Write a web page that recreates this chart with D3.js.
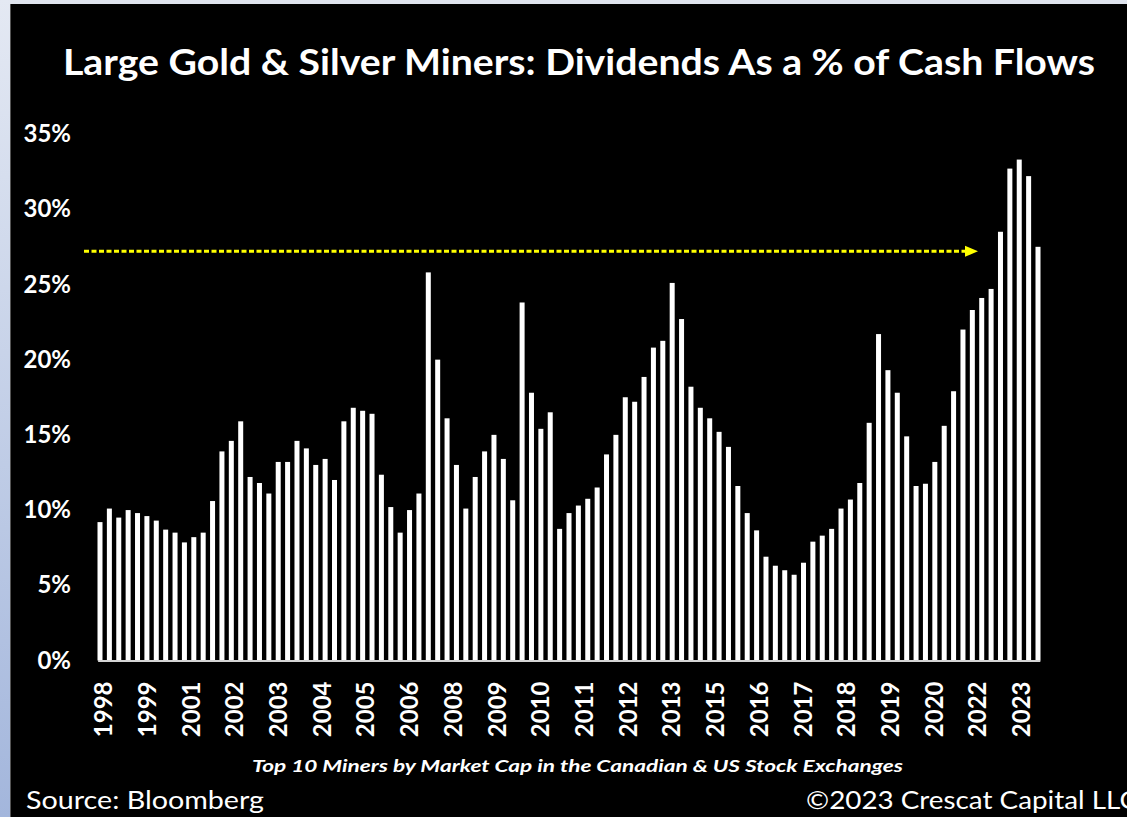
<!DOCTYPE html>
<html>
<head>
<meta charset="utf-8">
<style>
  html, body { margin: 0; padding: 0; background: #000; }
  svg { display: block; }
  text { font-family: Lato, "Open Sans", sans-serif; fill: #fff; }
</style>
</head>
<body>
<div id="chart"></div>
<script src="https://cdn.jsdelivr.net/npm/d3@7"></script>
<script>
  // quarterly dividends as % of cash flows
  const values = [
    9.2, 10.1, 9.5, 10.0, 9.8, 9.6, 9.3, 8.7, 8.5, 7.85,
    8.2, 8.5, 10.6, 13.9, 14.6, 15.9, 12.2, 11.8, 11.1, 13.2,
    13.2, 14.6, 14.1, 13.0, 13.4, 12.0, 15.9, 16.8, 16.6, 16.4,
    12.35, 10.2, 8.5, 10.0, 11.1, 25.8, 20.0, 16.1, 13.0, 10.1,
    12.2, 13.9, 15.0, 13.4, 10.65, 23.8, 17.8, 15.4, 16.5, 8.75,
    9.8, 10.3, 10.75, 11.5, 13.7, 15.0, 17.5, 17.2, 18.85, 20.8,
    21.25, 25.1, 22.7, 18.2, 16.8, 16.1, 15.2, 14.2, 11.6, 9.8,
    8.65, 6.9, 6.3, 6.0, 5.7, 6.5, 7.9, 8.3, 8.75, 10.1,
    10.7, 11.8, 15.8, 21.7, 19.3, 17.8, 14.9, 11.6, 11.75, 13.2,
    15.6, 17.9, 22.0, 23.3, 24.1, 24.7, 28.5, 32.7, 33.3, 32.2,
    27.5
  ];
  const yearLabels = ["1998", "1999", "2001", "2002", "2003", "2004", "2005", "2006",
    "2008", "2009", "2010", "2011", "2012", "2013", "2015", "2016", "2017", "2018",
    "2019", "2020", "2022", "2023"];
  const yTicks = [0, 5, 10, 15, 20, 25, 30, 35];
  const arrowLevel = 27.2;

  const W = 1127, H = 817;

  const svg = d3.select("#chart").append("svg")
    .attr("width", W)
    .attr("height", H);

  const defs = svg.append("defs");
  const grad = defs.append("linearGradient")
    .attr("id", "side")
    .attr("x1", 0).attr("y1", 0).attr("x2", 0).attr("y2", 1);
  grad.append("stop").attr("offset", "0%").attr("stop-color", "#e4e9f3");
  grad.append("stop").attr("offset", "100%").attr("stop-color", "#a3b6dc");

  // frame
  svg.append("rect").attr("width", W).attr("height", H).attr("fill", "#dfe4ee");
  svg.append("rect").attr("x", 0).attr("y", 0).attr("width", 10).attr("height", H).attr("fill", "url(#side)");
  svg.append("rect").attr("x", 10).attr("y", 4).attr("width", W - 10).attr("height", H - 4).attr("fill", "#000");
  svg.append("line").attr("x1", 10.5).attr("x2", 10.5).attr("y1", 4).attr("y2", H)
    .attr("stroke", "#555").attr("stroke-width", 1);

  const x = d3.scaleLinear().domain([0, values.length - 1]).range([100, 1038]);
  const y = d3.scaleLinear().domain([0, 35]).range([660.5, 134]);

  // title
  svg.append("text")
    .attr("x", 63)
    .attr("y", 75)
    .attr("textLength", 1032)
    .attr("lengthAdjust", "spacingAndGlyphs")
    .style("font-size", "37px")
    .style("font-weight", 700)
    .text("Large Gold & Silver Miners: Dividends As a % of Cash Flows");

  // y axis labels
  const yAxis = svg.append("g")
    .attr("transform", "translate(71,0)")
    .call(d3.axisLeft(y).tickValues(yTicks).tickFormat(d => d + "%").tickSize(0).tickPadding(0));
  yAxis.select(".domain").remove();
  yAxis.selectAll("text")
    .style("font-family", "Lato, sans-serif")
    .style("font-size", "24px")
    .style("font-weight", 700)
    .attr("fill", "#fff");

  // bars
  const barW = 5;
  svg.append("g")
    .selectAll("rect")
    .data(values)
    .enter().append("rect")
    .attr("x", (d, i) => x(i) - barW / 2)
    .attr("y", d => y(d))
    .attr("width", barW)
    .attr("height", d => y(0) - y(d))
    .attr("fill", "#fff");

  // baseline
  svg.append("line")
    .attr("x1", x(-0.2)).attr("x2", x(values.length - 0.75))
    .attr("y1", y(0) + 0.5).attr("y2", y(0) + 0.5)
    .attr("stroke", "#d4d4d4")
    .attr("stroke-width", 2);

  // x axis year labels (date axis, roughly every 14 months)
  const labelIdx = yearLabels.map((d, k) => 0.32 + 4.66 * k);
  const xAxis = svg.append("g")
    .attr("transform", "translate(0," + y(0) + ")")
    .call(d3.axisBottom(x).tickValues(labelIdx).tickFormat((d, k) => yearLabels[k]).tickSize(0));
  xAxis.select(".domain").remove();
  xAxis.selectAll("text")
    .attr("transform", "rotate(-90)")
    .attr("x", -21)
    .attr("y", 0)
    .attr("dy", "0.36em")
    .style("text-anchor", "end")
    .style("font-family", "Lato, sans-serif")
    .style("font-size", "24px")
    .style("font-weight", 700)
    .attr("fill", "#fff");

  // yellow dashed arrow
  const ay = y(arrowLevel);
  svg.append("line")
    .attr("x1", 84).attr("x2", 967)
    .attr("y1", ay).attr("y2", ay)
    .attr("stroke", "#ffff00")
    .attr("stroke-width", 3)
    .attr("stroke-dasharray", "5,2.5");
  svg.append("path")
    .attr("d", "M965," + (ay - 5.5) + " L978," + ay + " L965," + (ay + 5.5) + " Z")
    .attr("fill", "#ffff00");

  // footer
  svg.append("text")
    .attr("x", 252)
    .attr("y", 772)
    .attr("textLength", 651)
    .attr("lengthAdjust", "spacingAndGlyphs")
    .style("font-size", "17px")
    .style("font-weight", 700)
    .style("font-style", "italic")
    .text("Top 10 Miners by Market Cap in the Canadian & US Stock Exchanges");

  svg.append("text")
    .attr("x", 26)
    .attr("y", 809)
    .attr("textLength", 238)
    .attr("lengthAdjust", "spacingAndGlyphs")
    .style("font-size", "25px")
    .text("Source: Bloomberg");

  svg.append("text")
    .attr("x", 806)
    .attr("y", 809)
    .attr("textLength", 332)
    .attr("lengthAdjust", "spacingAndGlyphs")
    .style("font-size", "25px")
    .text("©2023 Crescat Capital LLC");
</script>
</body>
</html>
